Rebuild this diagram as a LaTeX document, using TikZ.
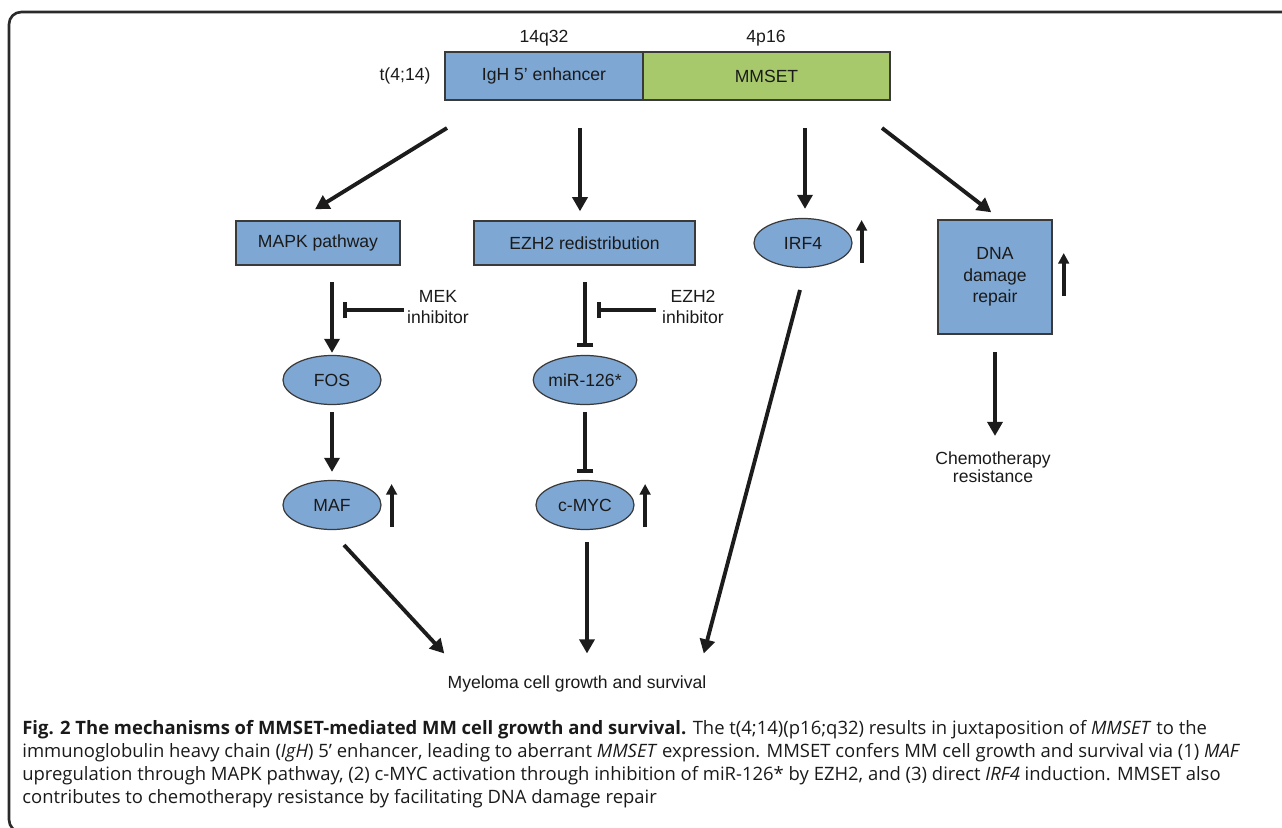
\documentclass[tikz,border=0pt]{standalone}
\usepackage{fontspec}
\setmainfont{Liberation Sans}
\newfontfamily\capfont{Open Sans}
\usetikzlibrary{arrows.meta, positioning, calc, shapes.geometric}
\definecolor{boxblue}{HTML}{7EA7D3}
\definecolor{setgreen}{HTML}{A7C96C}
\definecolor{edgegray}{HTML}{3A3A3A}
\definecolor{arrowblack}{HTML}{1C1C1C}
\definecolor{txtblack}{HTML}{1A1A1A}
\definecolor{framegray}{HTML}{2A2A2A}
\newcommand{\pxl}{0.02cm}
\tikzset{
  genebox/.style={rectangle, draw=edgegray, line width=0.8pt, fill=boxblue, inner sep=0pt, text=txtblack, font=\fontsize{10}{12}\selectfont},
  oval/.style={ellipse, draw=edgegray, line width=0.7pt, fill=boxblue, minimum width=98*\pxl, minimum height=49*\pxl, inner sep=0pt, text=txtblack, font=\fontsize{10}{12}\selectfont},
  lbl/.style={inner sep=0pt, text=txtblack, font=\fontsize{10}{12}\selectfont},
  arr/.style={draw=arrowblack, line width=2.2pt, -{Triangle[length=8pt, width=8.5pt]}},
  uparr/.style={draw=arrowblack, line width=2.2pt, -{Triangle[length=6pt, width=6pt]}},
  tbar/.style={draw=arrowblack, line width=2.2pt, -{Bar[width=9.5pt]}},
  caption/.style={anchor=west, inner sep=0pt, text=txtblack, font=\capfont\fontsize{10.5}{13}\selectfont}
}
\begin{document}
\begin{tikzpicture}[x=0.02cm, y=-0.02cm]
  \useasboundingbox (0,0) rectangle (1282,828);

  % Outer frame (runs off the right edge)
  \draw[framegray, line width=1.5pt, rounded corners=7pt] (1330,12) -- (9,12) -- (9,832) -- (1330,832);

  % Translocation t(4;14)
  \node[lbl] (tloc) at (405,76) {t(4;14)};
  \node[genebox, minimum width=198*\pxl, minimum height=48*\pxl] (igh) at (544,76) {IgH 5’ enhancer};
  \node[genebox, fill=setgreen, minimum width=247*\pxl, minimum height=48*\pxl] (mmset) at (766.5,76) {MMSET};
  \node[lbl] (chr14) at (544,38) {14q32};
  \node[lbl] (chr4) at (766,38) {4p16};

  % Downstream effectors
  \node[genebox, minimum width=164*\pxl, minimum height=44*\pxl] (mapk) at (318,243) {MAPK pathway};
  \node[genebox, minimum width=221*\pxl, minimum height=44*\pxl] (ezh) at (584.5,243) {EZH2 redistribution};
  \node[genebox, minimum width=114*\pxl, minimum height=114*\pxl, align=center, font=\fontsize{10}{12.3}\selectfont] (dna) at (995,277) {DNA\\damage\\repair};
  \foreach \x/\y/\nm/\txt in {803/243/irf/IRF4, 332/380/fos/FOS, 585/380/mir/miR-126*, 332/505/maf/MAF, 585/505/cmyc/c-MYC}
    \node[oval] (\nm) at (\x,\y) {\txt};

  % Inhibitors and outcomes
  \node[lbl, align=center, font=\fontsize{10}{11.5}\selectfont] (mek) at (438,307) {MEK\\inhibitor};
  \node[lbl, align=center, font=\fontsize{10}{11.5}\selectfont] (ezhi) at (693,307) {EZH2\\inhibitor};
  \node[lbl, align=center, font=\fontsize{10}{10.5}\selectfont] (chemo) at (993,467) {Chemotherapy\\resistance};
  \node[lbl] (myel) at (577,684) {Myeloma cell growth and survival};

  % Arrows from the fused locus
  \coordinate (s1) at (447,128);
  \coordinate (s2) at (580,128);
  \coordinate (s3) at (805,128);
  \coordinate (s4) at (882,128);
  \draw[arr] (s1) -- ($(mapk.north)+(-3,-11)$);
  \draw[arr] (s2) -- ($(ezh.north)+(-4.5,-9)$);
  \draw[arr] (s3) -- ($(irf.north)+(2,-9)$);
  \draw[arr] (s4) -- ($(dna.north west)+(54,-7)$);

  % Left branch: MAPK -> FOS -> MAF
  \coordinate (f0) at (332,282);
  \draw[arr] (f0) -- ($(fos.north)+(0,-2)$);
  \coordinate (f1) at (332,412);
  \draw[arr] (f1) -- ($(maf.north)+(0,-8)$);
  \coordinate (mekbar) at (343,310);
  \draw[tbar, shorten <=3*\pxl] (mek.west |- mekbar) -- (mekbar);

  % Middle branch: EZH2 -| miR-126* -| c-MYC
  \coordinate (e0) at (585,282);
  \draw[tbar] (e0) -- ($(mir.north)+(0,-8)$);
  \coordinate (ezhbar) at (597,310);
  \draw[tbar, shorten <=6*\pxl] (ezhi.west |- ezhbar) -- (ezhbar);
  \coordinate (e1) at (585,412);
  \draw[tbar] (e1) -- ($(cmyc.north)+(0,-7)$);

  % Right branch
  \coordinate (d0) at (995,352);
  \draw[arr] (d0) -- ($(chemo.north)+(2,-15)$);

  % Convergence on myeloma growth
  \coordinate (g1) at (344,545);
  \coordinate (g2) at (587,542);
  \coordinate (g3) at (800,290);
  \draw[arr] (g1) -- ($(myel.north west)+(-3,-22)$);
  \draw[arr] (g2) -- ($(myel.north)+(10,-22)$);
  \draw[arr] (g3) -- ($(myel.north east)+(-3,-22)$);

  % Up-regulation marks
  \foreach \nm/\dx/\dy in {maf/10/22, cmyc/10.5/22, irf/9/20, dna/11/19}
    \draw[uparr] ($(\nm.east)+(\dx,\dy)$) -- ++(0,-43);

  % Caption
  \node[caption] (cap1) at (22,730) {\textbf{Fig. 2 The mechanisms of MMSET-mediated MM cell growth and survival.} The t(4;14)(p16;q32) results in juxtaposition of \textit{MMSET} to the};
  \node[caption] (cap2) at (22,753) {immunoglobulin heavy chain (\textit{IgH}) 5’ enhancer, leading to aberrant \textit{MMSET} expression. MMSET confers MM cell growth and survival via (1) \textit{MAF}};
  \node[caption] (cap3) at (22,776) {upregulation through MAPK pathway, (2) c-MYC activation through inhibition of miR-126* by EZH2, and (3) direct \textit{IRF4} induction. MMSET also};
  \node[caption] (cap4) at (22,799) {contributes to chemotherapy resistance by facilitating DNA damage repair};
\end{tikzpicture}
\end{document}
